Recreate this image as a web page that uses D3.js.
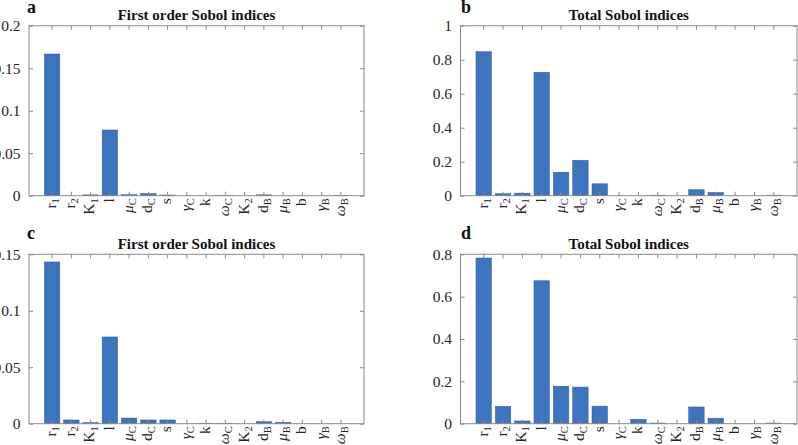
<!DOCTYPE html>
<html>
<head>
<meta charset="utf-8">
<script src="https://cdn.jsdelivr.net/npm/d3@7"></script>
<style>
  body { margin: 0; background: #fff; }
  svg { display: block; }
  svg text { font-family: "Liberation Serif", "Times New Roman", serif; }
</style>
</head>
<body>
<svg id="chart" width="798" height="445"></svg>
<script>
// parameter names, "_" marks the subscript
const params = ["r_1", "r_2", "K_1", "l", "μ_C", "d_C", "s", "γ_C", "k", "ω_C", "K_2", "d_B", "μ_B", "b", "γ_B", "ω_B"];

// sensitivity indices
const firstOrderA = [0.1667, 0, 0.001, 0.0773, 0.0012, 0.0025, 0.0008, 0, 0, 0.0004, 0, 0.001, 0, 0, 0, 0.0004];
const totalB      = [0.847, 0.012, 0.015, 0.726, 0.138, 0.208, 0.07, 0, 0, 0.003, 0, 0.035, 0.019, 0, 0, 0.003];
const firstOrderC = [0.1432, 0.0033, 0.001, 0.0768, 0.005, 0.0033, 0.0033, 0, 0.0004, 0.0004, 0, 0.0018, 0.0012, 0, 0, 0];
const totalD      = [0.7825, 0.082, 0.013, 0.675, 0.177, 0.173, 0.083, 0, 0.021, 0.003, 0, 0.079, 0.026, 0, 0, 0.003];

const ticksFirstA = [0, 0.05, 0.1, 0.15, 0.2];
const ticksTotalB = [0, 0.2, 0.4, 0.6, 0.8, 1];
const ticksFirstC = [0, 0.05, 0.1, 0.15];
const ticksTotalD = [0, 0.2, 0.4, 0.6, 0.8];

const svg = d3.select("#chart");
const serif = '"Liberation Serif", "Times New Roman", serif';
const barColor = "#3d74be";
const axisColor = "#8a8a8a";
const textColor = "#262626";

const panels = [
  { letter: "a", title: "First order Sobol indices", values: firstOrderA, ticks: ticksFirstA,
    left: 29, right: 364, top: 25.7, bottom: 195.7, letterX: 27, letterY: 13 },
  { letter: "b", title: "Total Sobol indices", values: totalB, ticks: ticksTotalB,
    left: 460.5, right: 797, top: 25.7, bottom: 195.7, letterX: 461, letterY: 13 },
  { letter: "c", title: "First order Sobol indices", values: firstOrderC, ticks: ticksFirstC,
    left: 29, right: 364, top: 254.3, bottom: 423.7, letterX: 27, letterY: 239 },
  { letter: "d", title: "Total Sobol indices", values: totalD, ticks: ticksTotalD,
    left: 460.5, right: 797, top: 254.3, bottom: 423.7, letterX: 461, letterY: 239 }
];

function drawPanel(p) {
  const w = p.right - p.left, h = p.bottom - p.top;
  const g = svg.append("g").attr("transform", `translate(${p.left},${p.top})`);

  const x = d3.scaleBand().domain(d3.range(params.length)).range([0, w])
    .paddingInner(0.2).paddingOuter(0.8);
  const y = d3.scaleLinear().domain([0, d3.max(p.ticks)]).range([h, 0]);

  // bars
  g.selectAll("rect.bar").data(p.values).join("rect")
    .attr("class", "bar")
    .attr("x", (d, i) => x(i))
    .attr("width", x.bandwidth())
    .attr("y", d => y(d))
    .attr("height", d => h - y(d))
    .attr("fill", barColor)
    .attr("stroke", "#2d5d9c")
    .attr("stroke-width", 0.5);

  // inward ticks on all four sides
  const axes = [
    { ax: d3.axisLeft(y).tickValues(p.ticks).tickFormat(d => String(d)), tr: "translate(0,0)", labels: true },
    { ax: d3.axisRight(y).tickValues(p.ticks).tickFormat(""), tr: `translate(${w},0)` },
    { ax: d3.axisBottom(x).tickFormat(""), tr: `translate(0,${h})` },
    { ax: d3.axisTop(x).tickFormat(""), tr: "translate(0,0)" }
  ];
  axes.forEach(a => {
    const ag = g.append("g").attr("transform", a.tr)
      .call(a.ax.tickSizeInner(-4).tickSizeOuter(0).tickPadding(a.labels ? 8.5 : 0))
      .attr("font-family", serif)
      .attr("font-size", 15.5);
    ag.select(".domain").remove();
    ag.selectAll(".tick line").attr("stroke", axisColor);
    ag.selectAll(".tick text").attr("fill", textColor);
  });
  // the box
  g.append("rect")
    .attr("x", 0).attr("y", 0).attr("width", w).attr("height", h)
    .attr("fill", "none").attr("stroke", axisColor).attr("stroke-width", 1);

  // rotated category labels with subscripts
  params.forEach((name, i) => {
    const [base, sub] = name.split("_");
    const greek = /[μγω]/.test(base);
    const t = g.append("text")
      .attr("transform", `translate(${x(i) + x.bandwidth() / 2},${h + 2.5}) rotate(-90)`)
      .attr("text-anchor", "end")
      .attr("font-family", serif)
      .attr("font-size", 15.5)
      .attr("fill", textColor);
    t.append("tspan").attr("dy", "0.25em")
      .attr("font-style", greek ? "italic" : "normal")
      .text(base);
    if (sub) {
      t.append("tspan").attr("dy", "0.3em").attr("font-size", 10.5).text(sub);
    }
  });

  // title and panel letter
  svg.append("text")
    .attr("x", p.left + w / 2).attr("y", p.top - 5.5)
    .attr("text-anchor", "middle")
    .attr("font-family", serif)
    .attr("font-weight", "bold")
    .attr("font-size", 15)
    .attr("fill", "#111")
    .text(p.title);
  svg.append("text")
    .attr("x", p.letterX).attr("y", p.letterY)
    .attr("font-family", serif)
    .attr("font-weight", "bold")
    .attr("font-size", 18)
    .attr("fill", "#111")
    .text(p.letter);
}

panels.forEach(drawPanel);
</script>
</body>
</html>
